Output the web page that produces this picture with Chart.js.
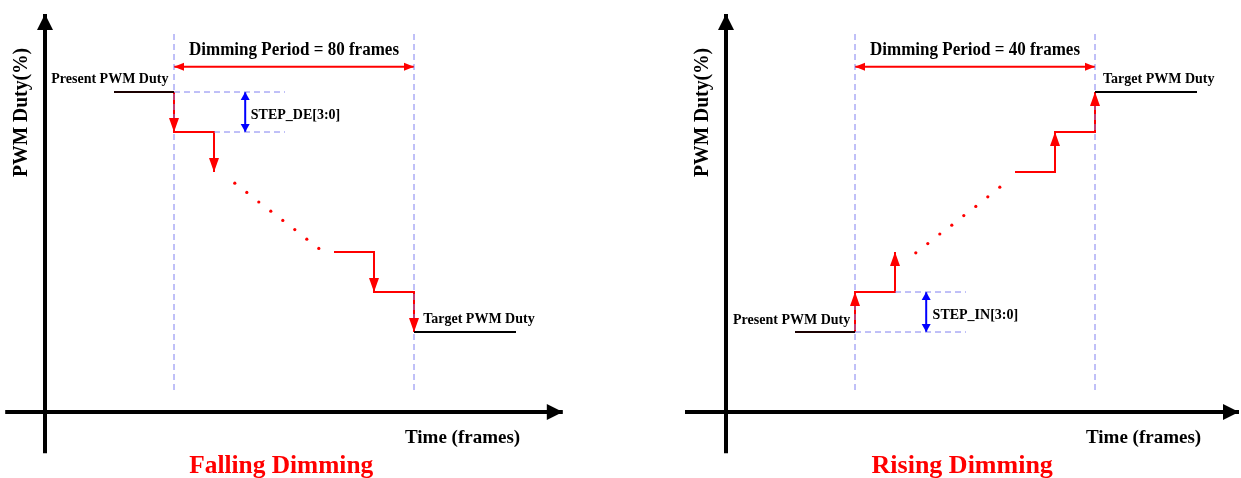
<!DOCTYPE html>
<html>
<head>
<meta charset="utf-8">
<script src="https://cdn.jsdelivr.net/npm/chart.js@4.4.1/dist/chart.umd.min.js"></script>
<style>
  body { margin: 0; background: #fff; }
  #wrap { position: relative; width: 1241px; height: 478px; overflow: hidden; }
  canvas { position: absolute; top: 0; }
</style>
</head>
<body>
<div id="wrap">
  <canvas id="fallChart" width="570" height="478" style="left:0"></canvas>
  <canvas id="riseChart" width="560" height="478" style="left:681px"></canvas>
</div>
<script>
// x unit = one step period, y unit = one PWM duty step (STEP_DE / STEP_IN)

// ---- Falling dimming ----
var fallPeriodFrames = 80;
var fallPresentX = [-1.5, 0];
var fallPresentY = [8, 8];
var fallFirstStepsX = [0, 0, 1, 1];
var fallFirstStepsY = [8, 7, 7, 6];
var fallLastStepsX = [4, 5, 5, 6, 6];
var fallLastStepsY = [4, 4, 3, 3, 2];
var fallTargetX = [6, 8.55];
var fallTargetY = [2, 2];
var fallDotsX = [1.52, 1.82, 2.12, 2.42, 2.72, 3.02, 3.32, 3.62];
var fallDotsY = [5.72, 5.49, 5.25, 5.02, 4.79, 4.56, 4.32, 4.09];
var fallStepGuide = [8, 7];

// ---- Rising dimming ----
var risePeriodFrames = 40;
var risePresentX = [-1.5, 0];
var risePresentY = [2, 2];
var riseFirstStepsX = [0, 0, 1, 1];
var riseFirstStepsY = [2, 3, 3, 4];
var riseLastStepsX = [4, 5, 5, 6, 6];
var riseLastStepsY = [6, 6, 7, 7, 8];
var riseTargetX = [6, 8.55];
var riseTargetY = [8, 8];
var riseDotsX = [1.52, 1.82, 2.12, 2.42, 2.72, 3.02, 3.32, 3.62];
var riseDotsY = [3.98, 4.21, 4.45, 4.67, 4.91, 5.14, 5.38, 5.62];
var riseStepGuide = [2, 3];

// dimming period spans these step positions
var periodX = [0, 6];

var RED = '#ff0000', BLUE = '#0000ff', GUIDE = '#8080f0';
var SERIF = '"Liberation Serif", "Times New Roman", serif';

function pts(xs, ys) {
    return xs.map(function (x, i) { return { x: x, y: ys[i] }; });
}

function lineSet(xs, ys, color, width, extra) {
    var ds = {
        data: pts(xs, ys),
        showLine: true,
        borderColor: color,
        borderWidth: width,
        pointRadius: 0,
        fill: false,
        tension: 0
    };
    for (var k in extra || {}) ds[k] = extra[k];
    return ds;
}

function drawHead(ctx, tip, from, len, w, color) {
    var a = Math.atan2(tip.y - from.y, tip.x - from.x);
    ctx.save();
    ctx.translate(tip.x, tip.y);
    ctx.rotate(a);
    ctx.beginPath();
    ctx.moveTo(0, 0);
    ctx.lineTo(-len, w / 2);
    ctx.lineTo(-len, -w / 2);
    ctx.closePath();
    ctx.fillStyle = color;
    ctx.fill();
    ctx.restore();
}

// arrow heads drawn on the dataset points
var arrowPlugin = {
    id: 'arrowHeads',
    afterDatasetsDraw: function (chart) {
        var ctx = chart.ctx;
        chart.data.datasets.forEach(function (ds, i) {
            if (!ds.arrow) return;
            var p = chart.getDatasetMeta(i).data.map(function (el) { return { x: el.x, y: el.y }; });
            var n = p.length, a = ds.arrow;
            if (a.at === 'drops') {
                for (var j = 1; j < n; j++) {
                    if (Math.abs(p[j].x - p[j - 1].x) < 0.5) drawHead(ctx, p[j], p[j - 1], a.len, a.w, ds.borderColor);
                }
            } else {
                drawHead(ctx, p[n - 1], p[n - 2], a.len, a.w, ds.borderColor);
                if (a.at === 'both') drawHead(ctx, p[0], p[1], a.len, a.w, ds.borderColor);
            }
        });
    }
};

function makeChart(id, d) {
    var canvas = document.getElementById(id);
    var xMin = -4.35, yMax = 10.3;
    var guideTop = 9.475, guideBottom = 0.55, guideEnd = 2.775, stepArrowX = 1.78;

    var datasets = [
        // dashed guides
        lineSet([periodX[0], periodX[0]], [guideBottom, guideTop], GUIDE, 1, { borderDash: [6, 4] }),
        lineSet([periodX[1], periodX[1]], [guideBottom, guideTop], GUIDE, 1, { borderDash: [6, 4] }),
        lineSet([periodX[0], guideEnd], [d.guide[0], d.guide[0]], GUIDE, 1, { borderDash: [6, 4] }),
        lineSet([d.guideStart, guideEnd], [d.guide[1], d.guide[1]], GUIDE, 1, { borderDash: [6, 4] }),
        // present / target duty
        lineSet(d.presentX, d.presentY, '#1a0000', 2),
        lineSet(d.targetX, d.targetY, '#000000', 2),
        // steps
        lineSet(d.firstX, d.firstY, RED, 2, { arrow: { at: 'drops', len: 14, w: 10 } }),
        lineSet(d.lastX, d.lastY, RED, 2, { arrow: { at: 'drops', len: 14, w: 10 } }),
        {
            data: pts(d.dotsX, d.dotsY),
            showLine: false,
            pointRadius: 1.6,
            pointBorderWidth: 0,
            pointBackgroundColor: RED
        },
        // dimming period arrow
        lineSet(periodX, [8.63, 8.63], RED, 2, { arrow: { at: 'both', len: 10, w: 8 } }),
        // step size arrow
        lineSet([stepArrowX, stepArrowX], d.guide, BLUE, 2, { arrow: { at: 'both', len: 8, w: 9 } }),
        // axes
        lineSet(d.xAxisX, [0, 0], '#000000', 4, { arrow: { at: 'end', len: 16, w: 16 } }),
        lineSet([-3.225, -3.225], [-1.03, 9.95], '#000000', 4, { arrow: { at: 'end', len: 16, w: 16 } })
    ];

    var labels = d.labels;
    var labelPlugin = {
        id: 'labels',
        afterDatasetsDraw: function (chart) {
            var ctx = chart.ctx, sx = chart.scales.x, sy = chart.scales.y;
            labels.forEach(function (t) {
                ctx.save();
                ctx.font = t.font;
                ctx.fillStyle = t.color || '#000';
                ctx.textAlign = t.align || 'left';
                ctx.textBaseline = 'alphabetic';
                ctx.translate(sx.getPixelForValue(t.x), sy.getPixelForValue(t.y));
                if (t.rotate) ctx.rotate(t.rotate);
                ctx.fillText(t.text, 0, 0, t.maxWidth);
                ctx.restore();
            });
        }
    };

    return new Chart(canvas.getContext('2d'), {
        type: 'scatter',
        data: { datasets: datasets },
        options: {
            responsive: false,
            animation: false,
            devicePixelRatio: 1,
            events: [],
            layout: { padding: 0, autoPadding: false },
            plugins: { legend: { display: false }, tooltip: { enabled: false } },
            scales: {
                x: { type: 'linear', display: false, bounds: 'data', min: xMin, max: xMin + canvas.width / 40 },
                y: { type: 'linear', display: false, bounds: 'data', min: yMax - canvas.height / 40, max: yMax }
            }
        },
        plugins: [arrowPlugin, labelPlugin]
    });
}

function commonLabels(title, period) {
    return [
        { text: 'Dimming Period = ' + period + ' frames', x: 3, y: 8.925, align: 'center', font: 'bold 18px ' + SERIF, maxWidth: 210 },
        { text: 'Time (frames)', x: 5.775, y: -0.78, font: 'bold 19px ' + SERIF, maxWidth: 119 },
        { text: title, x: 2.68, y: -1.53, align: 'center', font: 'bold 26px ' + SERIF, color: RED, maxWidth: 184 },
        { text: 'PWM Duty(%)', x: -3.68, y: 7.49, align: 'center', rotate: -Math.PI / 2, font: 'bold 21px ' + SERIF, maxWidth: 129 }
    ];
}

window.onload = function () {
    makeChart('fallChart', {
        presentX: fallPresentX, presentY: fallPresentY,
        targetX: fallTargetX, targetY: fallTargetY,
        firstX: fallFirstStepsX, firstY: fallFirstStepsY,
        lastX: fallLastStepsX, lastY: fallLastStepsY,
        dotsX: fallDotsX, dotsY: fallDotsY,
        guide: fallStepGuide, guideStart: 1,
        xAxisX: [-4.22, 9.72],
        labels: commonLabels('Falling Dimming', fallPeriodFrames).concat([
            { text: 'Present PWM Duty', x: -0.14, y: 8.22, align: 'right', font: 'bold 14px ' + SERIF, maxWidth: 118 },
            { text: 'STEP_DE[3:0]', x: 1.92, y: 7.32, font: 'bold 14px ' + SERIF, maxWidth: 90 },
            { text: 'Target PWM Duty', x: 6.23, y: 2.22, font: 'bold 14px ' + SERIF, maxWidth: 114 }
        ])
    });

    makeChart('riseChart', {
        presentX: risePresentX, presentY: risePresentY,
        targetX: riseTargetX, targetY: riseTargetY,
        firstX: riseFirstStepsX, firstY: riseFirstStepsY,
        lastX: riseLastStepsX, lastY: riseLastStepsY,
        dotsX: riseDotsX, dotsY: riseDotsY,
        guide: riseStepGuide, guideStart: 1,
        xAxisX: [-4.25, 9.6],
        labels: commonLabels('Rising Dimming', risePeriodFrames).concat([
            { text: 'Present PWM Duty', x: -0.12, y: 2.2, align: 'right', font: 'bold 14px ' + SERIF, maxWidth: 118 },
            { text: 'STEP_IN[3:0]', x: 1.94, y: 2.33, font: 'bold 14px ' + SERIF, maxWidth: 90 },
            { text: 'Target PWM Duty', x: 6.2, y: 8.22, font: 'bold 14px ' + SERIF, maxWidth: 114 }
        ])
    });
};
</script>
</body>
</html>
